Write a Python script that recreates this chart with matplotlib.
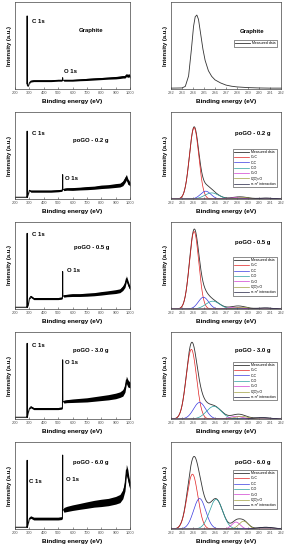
import numpy as np
import matplotlib
matplotlib.use("Agg")
import matplotlib.pyplot as plt

plt.rcParams['font.family'] = ['Liberation Sans', 'DejaVu Sans']

# Sample names, top to bottom
samples = ["Graphite", "poGO - 0.2 g", "poGO - 0.5 g", "poGO - 3.0 g", "poGO - 6.0 g"]

# Survey spectra (left column), intensity as fraction of axis height
survey_x = [200, 280, 283, 284.5, 286, 292, 300, 310, 330, 400, 450, 500, 525, 530, 531.5, 533,
            540, 560, 600, 650, 700, 750, 800, 850, 900, 930, 950, 965, 975, 985, 992, 1000]
survey_y = [
    [np.nan, np.nan, 0.06, 0.84, 0.04, 0.03, 0.07, 0.09, 0.095, 0.095, 0.095, 0.10, 0.10, 0.10, 0.13, 0.10,
     0.10, 0.10, 0.10, 0.105, 0.11, 0.115, 0.12, 0.125, 0.13, 0.135, 0.14, 0.14, 0.16, 0.15, 0.16, 0.14],
    [0.02, 0.02, 0.02, 0.78, 0.02, 0.05, 0.10, 0.09, 0.09, 0.09, 0.09, 0.095, 0.10, 0.10, 0.28, 0.11,
     0.11, 0.115, 0.115, 0.12, 0.125, 0.13, 0.14, 0.145, 0.155, 0.16, 0.18, 0.22, 0.25, 0.20, 0.19, 0.17],
    [0.02, 0.02, 0.02, 0.87, 0.02, 0.04, 0.12, 0.145, 0.12, 0.12, 0.12, 0.12, 0.125, 0.125, 0.43, 0.15,
     0.15, 0.155, 0.16, 0.16, 0.165, 0.17, 0.18, 0.19, 0.20, 0.21, 0.24, 0.28, 0.35, 0.30, 0.27, 0.24],
    [0.02, 0.02, 0.02, 0.87, 0.02, 0.07, 0.12, 0.14, 0.12, 0.12, 0.12, 0.12, 0.125, 0.125, 0.68, 0.20,
     0.20, 0.205, 0.21, 0.215, 0.22, 0.23, 0.24, 0.25, 0.265, 0.28, 0.30, 0.35, 0.45, 0.41, 0.40, 0.39],
    [0.02, 0.02, 0.02, 0.79, 0.02, 0.06, 0.12, 0.137, 0.12, 0.12, 0.12, 0.12, 0.125, 0.125, 0.85, 0.22,
     0.22, 0.23, 0.245, 0.26, 0.275, 0.29, 0.30, 0.31, 0.33, 0.35, 0.40, 0.50, 0.68, 0.62, 0.55, 0.50],
]
# half width of the noise band around each survey point
survey_noise = [
    [0, 0, 0, 0, 0, 0, 0.006, 0.01, 0.01, 0.01, 0.01, 0.01, 0.01, 0, 0, 0,
     0.01, 0.01, 0.01, 0.01, 0.012, 0.012, 0.012, 0.012, 0.014, 0.014, 0.014, 0.014, 0.017, 0.017, 0.017, 0.017],
    [0, 0, 0, 0, 0, 0, 0.006, 0.012, 0.012, 0.012, 0.012, 0.012, 0.012, 0, 0, 0,
     0.014, 0.014, 0.016, 0.016, 0.018, 0.018, 0.02, 0.02, 0.022, 0.022, 0.027, 0.032, 0.032, 0.032, 0.027, 0.022],
    [0, 0, 0, 0, 0, 0, 0.006, 0.012, 0.012, 0.012, 0.012, 0.012, 0.012, 0, 0, 0,
     0.014, 0.014, 0.016, 0.016, 0.018, 0.018, 0.02, 0.02, 0.022, 0.022, 0.027, 0.032, 0.032, 0.032, 0.027, 0.022],
    [0, 0, 0, 0, 0, 0, 0.006, 0.012, 0.012, 0.012, 0.012, 0.012, 0.012, 0, 0, 0,
     0.017, 0.017, 0.02, 0.022, 0.024, 0.026, 0.028, 0.03, 0.032, 0.032, 0.037, 0.042, 0.042, 0.042, 0.037, 0.032],
    [0, 0, 0, 0, 0, 0, 0.009, 0.014, 0.016, 0.016, 0.016, 0.016, 0.016, 0, 0, 0,
     0.027, 0.03, 0.032, 0.034, 0.037, 0.039, 0.042, 0.042, 0.044, 0.047, 0.052, 0.062, 0.062, 0.062, 0.052, 0.042],
]
# peak label positions (x left edge, y) per sample
c1s_pos = [(316, 0.76), (316, 0.73), (316, 0.84), (316, 0.83), (300, 0.53)]
o1s_pos = [(541, 0.18), (545, 0.22), (560, 0.43), (545, 0.63), (553, 0.55)]
survey_title_y = [0.65, 0.65, 0.69, 0.77, 0.745]

# High resolution C 1s of graphite (measured)
graphite_x = [282, 283, 283.3, 283.6, 283.85, 284.05, 284.2, 284.35, 284.5, 284.7, 284.9, 285.1, 285.4,
              285.7, 286.0, 286.5, 287.0, 287.5, 288.0, 289.0, 290.0, 291.0, 292.0]
graphite_y = [0.01, 0.012, 0.03, 0.15, 0.45, 0.72, 0.83, 0.85, 0.80, 0.63, 0.46, 0.33, 0.21,
              0.145, 0.105, 0.07, 0.045, 0.032, 0.024, 0.016, 0.012, 0.01, 0.01]

# Fitted components (center eV, height, FWHM eV) for the poGO samples
comp_names = ["C=C", "C-C", "C-O", "C=O", "C(O)=O", "π-π* interaction"]
comp_colors = ["#e02020", "#3a3ae0", "#2aa0a0", "#d040d0", "#a0a040", "#202040"]
comp_centers = [
    [284.1, 285.15, 285.7, 287.9, 288.6, 290.6],
    [284.1, 284.95, 285.8, 287.8, 288.4, 290.5],
    [283.85, 284.6, 285.9, 287.9, 288.4, 290.3],
    [283.95, 284.6, 286.1, 287.9, 288.6, 290.6],
]
comp_heights = [
    [0.82, 0.09, 0.07, 0.015, 0.015, 0.01],
    [0.89, 0.135, 0.09, 0.02, 0.02, 0.012],
    [0.80, 0.19, 0.145, 0.03, 0.03, 0.015],
    [0.63, 0.35, 0.34, 0.08, 0.09, 0.02],
]
comp_fwhm = [
    [1.0, 1.1, 1.5, 1.4, 1.4, 1.7],
    [1.0, 1.1, 1.5, 1.4, 1.4, 1.7],
    [1.1, 1.3, 1.6, 1.4, 1.4, 1.7],
    [1.15, 1.3, 1.4, 0.9, 1.0, 1.7],
]
hr_title_y = [0.64, 0.73, 0.745, 0.77, 0.75]
legend_top = [0.56, 0.58, 0.60, 0.66, 0.68]

W, H = 288, 550
fig = plt.figure(figsize=(W / 100, H / 100), dpi=100)

spine_c = "#444444"


def style_axes(ax, xlim, xticks):
    ax.set_xlim(*xlim)
    ax.set_ylim(0, 1)
    ax.set_xticks(xticks)
    ax.set_yticks([])
    ax.tick_params(axis="x", direction="in", length=1.5, width=0.4, labelsize=2.9,
                   pad=1.5, colors=spine_c, labelcolor="#555555")
    for s in ax.spines.values():
        s.set_linewidth(0.5)
        s.set_color(spine_c)
    ax.set_xlabel("Binding energy (eV)", fontsize=4.6, fontweight="bold", labelpad=3)
    ax.set_ylabel("Intensity (a.u.)", fontsize=4.2, fontweight="bold", labelpad=2)


hr_x = np.linspace(282, 292, 600)

for i, name in enumerate(samples):
    bottom = 1 - (110 * i + 89) / H
    height = 87 / H

    # survey
    ax = fig.add_axes([15 / W, bottom, 115 / W, height])
    y = np.array(survey_y[i])
    n = np.array(survey_noise[i])
    ax.fill_between(survey_x, y - n, y + n, color="black", lw=0)
    ax.plot(survey_x, y, color="black", lw=0.7)
    style_axes(ax, (200, 1000), range(200, 1001, 100))
    ax.text(c1s_pos[i][0], c1s_pos[i][1], "C 1s", fontsize=4.3, fontweight="bold")
    ax.text(o1s_pos[i][0], o1s_pos[i][1], "O 1s", fontsize=4.3, fontweight="bold")
    ax.text(730, survey_title_y[i], name, fontsize=4.3, fontweight="bold", ha="center")

    # high resolution C 1s
    ax = fig.add_axes([171 / W, bottom, 110 / W, height])
    if i == 0:
        ax.plot(graphite_x, graphite_y, color="#333333", lw=0.6, label="Measured data")
    else:
        k = i - 1
        comps = []
        for c, h, f in zip(comp_centers[k], comp_heights[k], comp_fwhm[k]):
            comps.append(h * np.exp(-4 * np.log(2) * (hr_x - c) ** 2 / f ** 2))
        ax.plot(hr_x, np.sum(comps, axis=0), color="#333333", lw=0.6, label="Measured data")
        for comp, lab, col in zip(comps, comp_names, comp_colors):
            ax.plot(hr_x, comp, color=col, lw=0.5, label=lab)
    style_axes(ax, (282, 292), range(282, 293))
    ax.text(289.4, hr_title_y[i], name, fontsize=4.3, fontweight="bold", ha="center")
    leg = ax.legend(loc="upper right", bbox_to_anchor=(0.965, legend_top[i]), fontsize=2.5,
                    frameon=True, fancybox=False, edgecolor="#333333", framealpha=1,
                    handlelength=4.2, labelspacing=0.4, borderpad=0.35, handletextpad=0.8,
                    borderaxespad=0)
    leg.get_frame().set_linewidth(0.4)

fig.savefig("out.png", dpi=100)
